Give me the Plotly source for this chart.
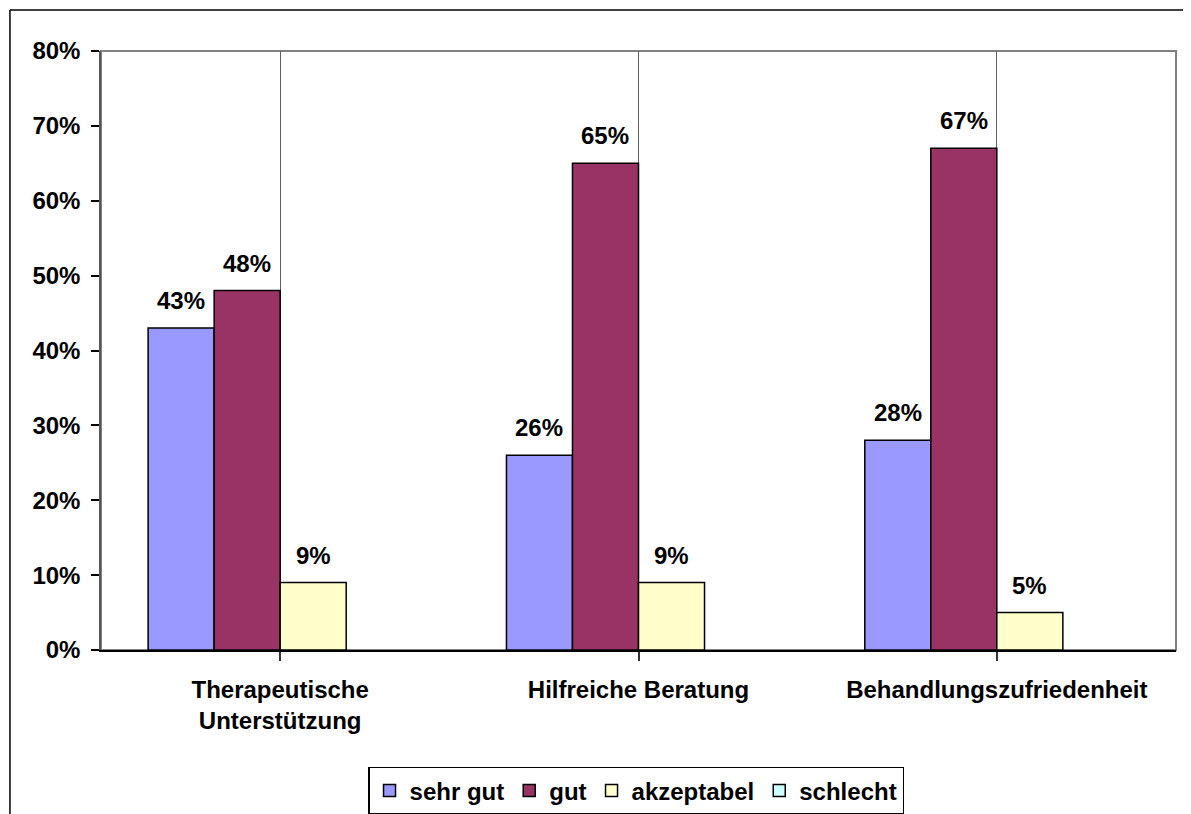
import plotly.graph_objects as go

categories = ["Therapeutische<br>Unterstützung", "Hilfreiche Beratung", "Behandlungszufriedenheit"]
series_names = ["sehr gut", "gut", "akzeptabel", "schlecht"]
sehr_gut = [0.43, 0.26, 0.28]
gut = [0.48, 0.65, 0.67]
akzeptabel = [0.09, 0.09, 0.05]
schlecht = [None, None, None]
colors = ["#9999FF", "#993366", "#FFFFCC", "#CCFFFF"]

values = [sehr_gut, gut, akzeptabel, schlecht]
bargap = 0.263
n = len(series_names)
w = (1 - bargap) / n

FONT = "Liberation Sans, Arial, sans-serif"
FS = 24

fig = go.Figure()
for name, vals, col in zip(series_names, values, colors):
    fig.add_trace(go.Bar(
        x=list(range(len(categories))), y=vals, name=name,
        marker=dict(color=col, line=dict(color="black", width=1.5)),
    ))

annotations = []
for j, vals in enumerate(values):
    for i, v in enumerate(vals):
        if v is None:
            continue
        annotations.append(dict(
            x=i + (j - (n - 1) / 2) * w, y=v, xref="x", yref="y",
            text=f"{round(v*100)}%", showarrow=False, yanchor="bottom",
            yshift=12, font=dict(family=FONT, size=FS, color="black", weight="bold"),
        ))

shapes = [
    # plot area border
    dict(type="rect", xref="paper", yref="paper", x0=0, y0=0, x1=1, y1=1,
         line=dict(color="#808080", width=2), layer="below"),
    # outer frame (left and top)
    dict(type="line", xref="paper", yref="paper", x0=-0.0847, y0=1.0684, x1=1.1, y1=1.0684,
         line=dict(color="black", width=1.5)),
    dict(type="line", xref="paper", yref="paper", x0=-0.0847, y0=-0.5, x1=-0.0847, y1=1.0684,
         line=dict(color="black", width=1.5)),
]

fig.update_layout(
    width=1183, height=806,
    margin=dict(l=93, r=15, t=43, b=164, autoexpand=False),
    paper_bgcolor="white", plot_bgcolor="white",
    barmode="group", bargap=bargap, bargroupgap=0,
    font=dict(family=FONT, size=FS, color="black"),
    showlegend=True,
    legend=dict(orientation="h", x=0.4977, y=-0.1953, xanchor="center", yanchor="top",
                bordercolor="black", borderwidth=1.5,
                font=dict(family=FONT, size=FS, color="black", weight="bold"),
                itemwidth=30, traceorder="normal"),
    annotations=annotations,
    shapes=shapes,
)
fig.update_xaxes(
    tickmode="array", tickvals=list(range(len(categories))), ticktext=categories,
    range=[-0.5, len(categories) - 0.5],
    tickson="boundaries", ticks="outside", ticklen=9, tickcolor="#333333", tickwidth=1.5,
    showgrid=True, gridcolor="#606060", gridwidth=1.2,
    showline=True, linecolor="black", linewidth=2,
    tickfont=dict(family=FONT, size=FS, color="black", weight="bold"),
    ticklabelstandoff=8, automargin=False,
    fixedrange=True,
)
fig.update_yaxes(
    range=[0, 0.8], dtick=0.1, tickformat=".0%",
    ticks="outside", ticklen=8, tickcolor="black", tickwidth=1.5,
    showgrid=False, zeroline=False,
    showline=True, linecolor="#555555", linewidth=1.5,
    tickfont=dict(family=FONT, size=FS, color="black", weight="bold"),
    ticklabelstandoff=6, automargin=False,
)

fig.write_html("out.html")
